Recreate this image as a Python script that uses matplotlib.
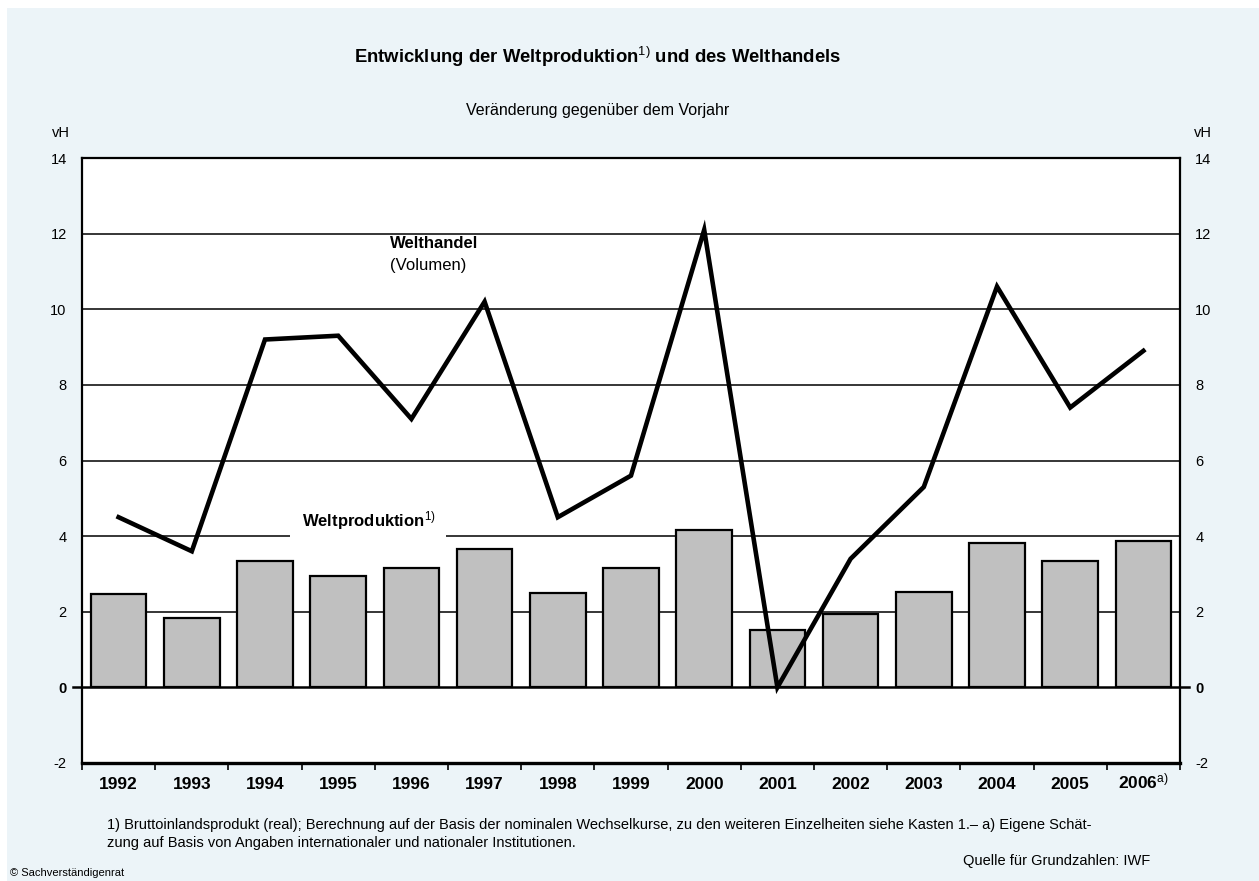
import matplotlib
matplotlib.use("Agg")
import matplotlib.pyplot as plt
from matplotlib.patches import Rectangle
from matplotlib.ticker import FixedLocator, NullFormatter

plt.rcParams['font.family'] = ['Liberation Sans', 'DejaVu Sans']
plt.rcParams['axes.unicode_minus'] = False
plt.rcParams['mathtext.fontset'] = 'custom'
plt.rcParams['mathtext.rm'] = 'Liberation Sans'
plt.rcParams['mathtext.it'] = 'Liberation Sans:italic'
plt.rcParams['mathtext.bf'] = 'Liberation Sans:bold'

years = ['1992', '1993', '1994', '1995', '1996', '1997', '1998', '1999',
         '2000', '2001', '2002', '2003', '2004', '2005', '2006$^{\\mathrm{a)}}$']
weltproduktion = [2.47, 1.84, 3.35, 2.94, 3.17, 3.65, 2.49, 3.17,
                  4.15, 1.53, 1.93, 2.51, 3.82, 3.33, 3.86]
welthandel = [4.5, 3.6, 9.2, 9.3, 7.1, 10.2, 4.5, 5.6,
              12.1, 0.0, 3.4, 5.3, 10.6, 7.4, 8.9]
yticks = [-2, 0, 2, 4, 6, 8, 10, 12, 14]

W, H = 1259, 881
fig = plt.figure(figsize=(W / 100, H / 100), dpi=100)
fig.patch.set_facecolor('white')
fig.patches.append(Rectangle((7 / W, 0), 1, 1 - 8 / H, transform=fig.transFigure,
                             facecolor='#ecf4f8', edgecolor='none', zorder=-10))

ax = fig.add_axes([82 / W, 118 / H, 1098 / W, 605 / H])
ax.set_facecolor('white')
x = list(range(len(years)))

# grid lines (thin, black), zero line drawn separately
for yv in yticks:
    if yv not in (-2, 0, 14):
        ax.axhline(yv, color='black', lw=1.1, zorder=1)

ax.bar(x, weltproduktion, width=0.76, color='#c0c0c0', edgecolor='black',
       linewidth=1.6, zorder=3)
ax.plot(x, welthandel, color='black', lw=3.3, solid_joinstyle='miter', zorder=4)

# zero line with short outward ticks on both sides
ax.plot([-0.008, 1.008], [0, 0], transform=ax.get_yaxis_transform(),
        color='black', lw=1.8, clip_on=False, zorder=5)

ax.set_xlim(-0.5, len(years) - 0.5)
ax.set_ylim(-2, 14)
for side in ['left', 'right', 'top']:
    ax.spines[side].set_linewidth(1.6)
ax.spines['bottom'].set_linewidth(2.4)

ax.set_xticks(x)
ax.set_xticklabels(years, fontsize=12.5, fontweight='bold')
ax.tick_params(axis='x', which='major', length=0, pad=18.5)
for lab in ax.get_xticklabels():
    lab.set_verticalalignment('baseline')
ax.xaxis.set_minor_locator(FixedLocator([i - 0.5 for i in range(len(years) + 1)]))
ax.xaxis.set_minor_formatter(NullFormatter())
ax.tick_params(axis='x', which='minor', direction='out', length=5, width=1.2)

ax.set_yticks(yticks)
ax.tick_params(axis='y', length=0, pad=11, labelsize=10.5)
ax2 = ax.twinx()
ax2.set_ylim(-2, 14)
ax2.set_yticks(yticks)
ax2.tick_params(axis='y', length=0, pad=11, labelsize=10.5)
for a in (ax, ax2):
    for lab in a.get_yticklabels():
        if lab.get_text() == '0':
            lab.set_fontweight('bold')
ax2.spines[:].set_visible(False)

# vH labels
ax.annotate('vH', xy=(0, 1), xycoords='axes fraction', xytext=(-12, 25),
            textcoords='offset pixels', ha='right', va='center', fontsize=10.5)
ax.annotate('vH', xy=(1, 1), xycoords='axes fraction', xytext=(14, 25),
            textcoords='offset pixels', ha='left', va='center', fontsize=10.5)

# series labels
ax.text(2.5, 4.4, 'Weltproduktion$^{\\mathrm{1)}}$', fontsize=12, fontweight='bold',
        ha='left', va='center', zorder=2,
        bbox=dict(facecolor='white', edgecolor='none', pad=8))
ax.text(3.71, 11.75, 'Welthandel', fontsize=12, fontweight='bold', ha='left', va='center')
ax.text(3.71, 11.15, '(Volumen)', fontsize=12, ha='left', va='center')

# title and subtitle
fig.text(598 / W, 1 - 63 / H, 'Entwicklung der Weltproduktion$^{\\mathrm{1)}}$ und des Welthandels',
         fontsize=13.3, fontweight='bold', ha='center', va='baseline')
fig.text(598 / W, 1 - 110 / H, 'Veränderung gegenüber dem Vorjahr', fontsize=11.5,
         ha='center', va='center')

# footnotes
fig.text(107 / W, 1 - 825 / H,
         '1) Bruttoinlandsprodukt (real); Berechnung auf der Basis der nominalen Wechselkurse, '
         'zu den weiteren Einzelheiten siehe Kasten 1.– a) Eigene Schät-',
         fontsize=10.5, ha='left', va='center')
fig.text(107 / W, 1 - 843 / H,
         'zung auf Basis von Angaben internationaler und nationaler Institutionen.',
         fontsize=10.5, ha='left', va='center')
fig.text(1150 / W, 1 - 861 / H, 'Quelle für Grundzahlen: IWF', fontsize=10.5,
         ha='right', va='center')
fig.text(10 / W, 1 - 873 / H, '© Sachverständigenrat', fontsize=8,
         ha='left', va='center')

fig.savefig('out.png', dpi=100, facecolor=fig.get_facecolor())
